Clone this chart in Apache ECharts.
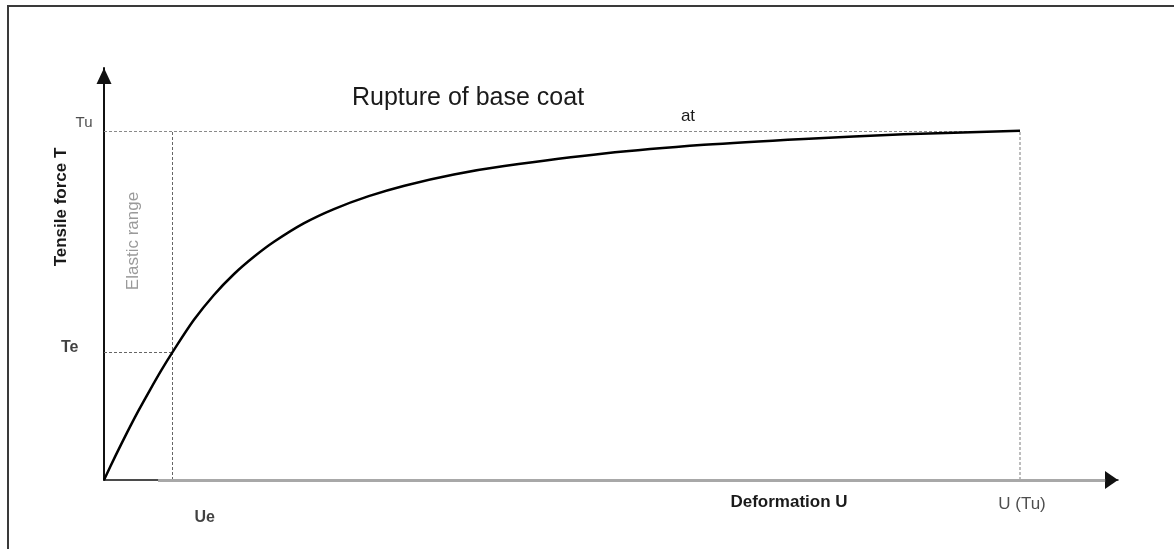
<!DOCTYPE html>
<html>
<head>
<meta charset="utf-8">
<script src="https://cdn.jsdelivr.net/npm/echarts@6/dist/echarts.min.js"></script>
<style>
  html, body { margin: 0; padding: 0; background: #fff; overflow: hidden; }
  #frame { position: absolute; left: 7px; top: 5px; width: 3000px; height: 3000px;
           border-left: 2px solid #3a3a3a; border-top: 2px solid #3a3a3a; box-sizing: border-box; }
  #chart { position: absolute; left: 0; top: 0; width: 1174px; height: 549px; }
</style>
</head>
<body>
<div id="frame"></div>
<div id="chart"></div>
<script>
// Deformation U (U(Tu) = 100) and tensile force T (Tu = 100)
const deformationU = [0, 1.25, 2.5, 3.75, 5.0, 6.25, 7.5, 9.8, 12.0, 14.2, 16.4, 18.6, 21.8, 25.1, 28.9, 32.8, 38.2, 43.7, 54.6, 65.5, 76.4, 87.3, 100];
const tensileT    = [0, 6.9, 13.5, 19.8, 25.7, 31.4, 36.7, 45.8, 53.0, 59.0, 64.0, 68.3, 73.5, 77.6, 81.3, 84.3, 87.5, 89.9, 93.5, 96.0, 97.7, 99.0, 100];

const Ue = 7.5, UTu = 100;   // characteristic deformations
const Te = 36.7, Tu = 100;   // characteristic forces
const xMax = 110.7, yMax = 118;

const xTickValues = [Ue, UTu];
const xTickLabels = ['Ue', 'U (Tu)'];
const yTickValues = [Te, Tu];
const yTickLabels = ['Te', 'Tu'];

const titleText = 'Rupture of base coat';
const atText = 'at';
const xName = 'Deformation U';
const yName = 'Tensile force T';
const rangeText = 'Elastic range';

const FONT = "'Liberation Sans', Arial, Helvetica, sans-serif";

const curve = deformationU.map((u, i) => [u, tensileT[i]]);

const chart = echarts.init(document.getElementById('chart'), null, { renderer: 'canvas' });

const dash = [3, 2];
const option = {
  animation: false,
  backgroundColor: 'transparent',
  textStyle: { fontFamily: FONT },
  title: {
    text: titleText,
    left: 352, top: 86, padding: 0,
    textStyle: { fontFamily: FONT, fontSize: 25, fontWeight: 'normal', color: '#1a1a1a' }
  },
  grid: { left: 104, right: 56, top: 68, bottom: 69, containLabel: false, outerBoundsMode: 'none' },
  xAxis: {
    type: 'value', min: 0, max: xMax,
    name: xName, nameLocation: 'middle', nameGap: 14,
    nameTextStyle: { fontFamily: FONT, fontSize: 17, fontWeight: 'bold', color: '#1a1a1a', padding: [0, 0, 0, 356] },
    axisLine: { show: true, onZero: false, symbol: ['none', 'triangle'], symbolSize: [18, 13], symbolOffset: [0, -6.5],
                lineStyle: { color: '#111', width: 1.5 } },
    axisTick: { show: false }, axisLabel: { show: false }, splitLine: { show: false }
  },
  yAxis: {
    type: 'value', min: 0, max: yMax,
    name: yName, nameLocation: 'middle', nameRotate: 90, nameGap: 34,
    nameTextStyle: { fontFamily: FONT, fontSize: 17, fontWeight: 'bold', color: '#1a1a1a', padding: [0, 0, 0, 134] },
    axisLine: { show: true, onZero: false, symbol: ['none', 'triangle'], symbolSize: [15, 16], symbolOffset: [0, -8],
                lineStyle: { color: '#111', width: 2 } },
    axisTick: { show: false }, axisLabel: { show: false }, splitLine: { show: false }
  },
  graphic: [
    { type: 'text', x: 688, y: 116, silent: true,
      style: { text: atText, fontFamily: FONT, fontSize: 17, fill: '#1a1a1a', textAlign: 'center', textVerticalAlign: 'middle' } },
    { type: 'text', x: 133, y: 241, rotation: Math.PI / 2, silent: true,
      style: { text: rangeText, fontFamily: FONT, fontSize: 17, fill: '#9a9a9a', textAlign: 'center', textVerticalAlign: 'middle' } }
  ],
  series: [
    {
      type: 'line',
      data: curve,
      smooth: 0.3,
      showSymbol: false,
      symbol: 'none',
      lineStyle: { color: '#000', width: 2.5 },
      z: 5,
      markLine: {
        silent: true, symbol: ['none', 'none'], label: { show: false },
        data: [
          [{ coord: [0, Tu], lineStyle: { color: '#8a8a8a', width: 1, type: dash } }, { coord: [UTu, Tu] }],
          [{ coord: [Ue, 0], lineStyle: { color: '#666', width: 1, type: dash } }, { coord: [Ue, Tu] }],
          [{ coord: [0, Te], lineStyle: { color: '#666', width: 1, type: dash } }, { coord: [Ue, Te] }],
          [{ coord: [UTu, 0], lineStyle: { color: '#bdbdbd', width: 2, type: dash } }, { coord: [UTu, Tu] }],
          [{ coord: [5.9, 0], lineStyle: { color: '#a8a8a8', width: 3, type: 'solid' } }, { coord: [109.3, 0] }]
        ]
      }
    },
    {
      type: 'scatter', symbolSize: 1, itemStyle: { color: 'transparent' }, silent: true, z: 6,
      data: [
        { value: [0, yTickValues[1]], label: { show: true, formatter: yTickLabels[1], position: 'left', distance: 11, offset: [0, -8],
            fontFamily: FONT, fontSize: 15, fontWeight: 'normal', color: '#222' } },
        { value: [0, yTickValues[0]], label: { show: true, formatter: yTickLabels[0], position: 'left', distance: 25, offset: [0, -4],
            fontFamily: FONT, fontSize: 16, fontWeight: 'bold', color: '#111' } },
        { value: [xTickValues[0], 0], label: { show: true, formatter: xTickLabels[0], position: 'bottom', distance: 29, offset: [32, 0],
            fontFamily: FONT, fontSize: 16, fontWeight: 'bold', color: '#111' } },
        { value: [xTickValues[1], 0], label: { show: true, formatter: xTickLabels[1], position: 'bottom', distance: 15, offset: [2, 0],
            fontFamily: FONT, fontSize: 17, fontWeight: 'normal', color: '#222' } }
      ]
    }
  ]
};
chart.setOption(option);
</script>
</body>
</html>
